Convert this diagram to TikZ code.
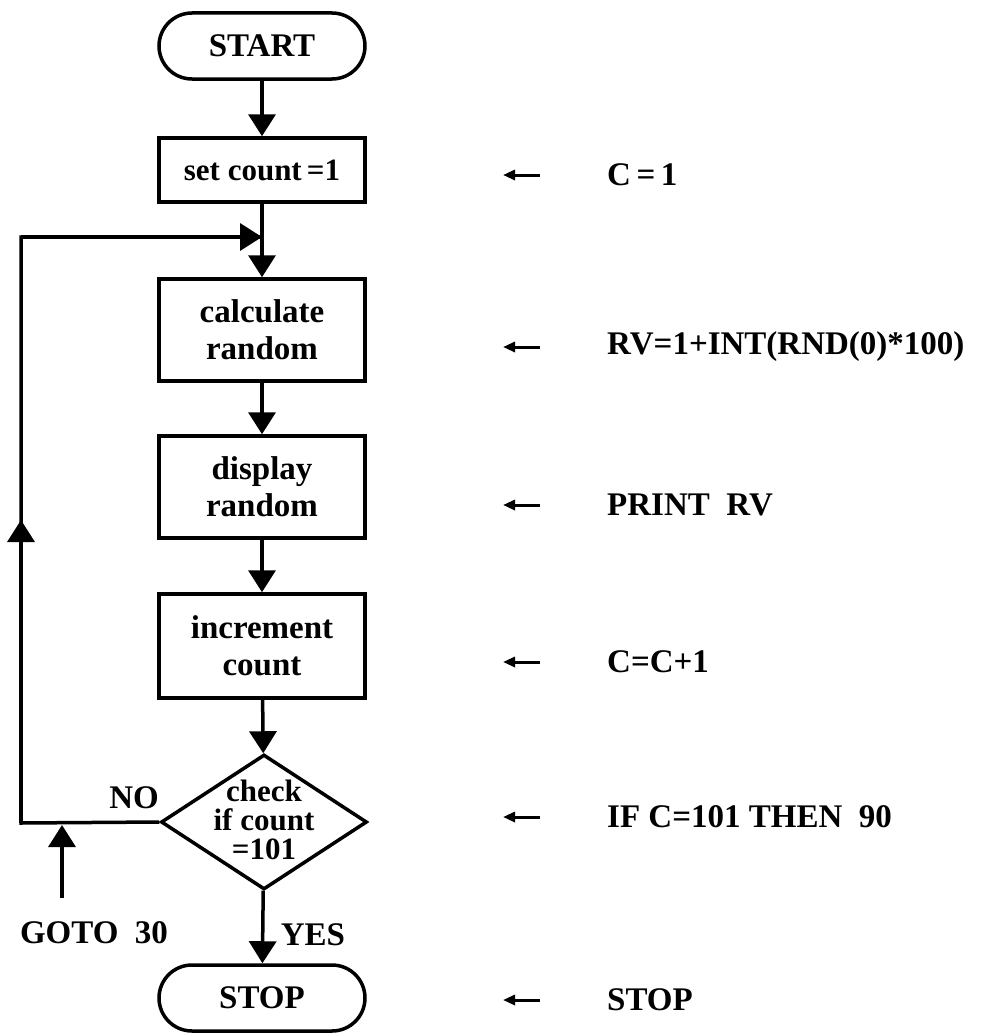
\documentclass[tikz,border=0pt]{standalone}
\usepackage{fontspec}
\setmainfont{Liberation Serif}
\usetikzlibrary{arrows.meta,shapes.geometric}
\begin{document}
\begin{tikzpicture}[x=1pt,y=-1pt,
  every node/.style={font=\fontsize{33}{37}\selectfont\bfseries},
  box/.style={draw,line width=3.5pt,minimum width=206pt,inner sep=0pt,align=center},
  term/.style={box,rounded corners=33pt,minimum height=66pt},
  dia/.style={draw,diamond,line width=3.5pt,minimum width=206pt,minimum height=135pt,inner sep=0pt},
  diatext/.style={align=center,inner sep=0pt,font=\fontsize{31}{29}\selectfont\bfseries},
  flow/.style={line width=3.5pt,-{Triangle[length=22pt,width=27pt]}},
  loopline/.style={line width=3.5pt},
  note/.style={anchor=west,inner sep=0pt},
  small/.style={line width=3pt,-{Triangle[length=12pt,width=10pt]}}]
\useasboundingbox (0,0) rectangle (987,1033);

% main column
\node[term] (start) at (262,46) {START};
\node[box,minimum height=64pt,font=\fontsize{31}{37}\selectfont\bfseries] (set) at (262,170) {set count\,=1};
\node[box,minimum height=102pt] (calc) at (262,330) {calculate\\random};
\node[box,minimum height=102pt] (disp) at (262,487) {display\\random};
\node[box,minimum height=104pt] (inc) at (262,646) {increment\\count};
\node[dia] (dia) at (264,822) {};
\node[diatext] (diat) at (264,820) {check\\if count\\=101};
\node[term] (stop) at (262,998) {STOP};

\draw[flow] (start) -- (set);
\draw[flow] (set) -- (calc);
\draw[flow] (calc) -- (disp);
\draw[flow] (disp) -- (inc);
\draw[flow] (inc) -- (dia);
\draw[flow] (dia) -- (stop);

% loop back
\coordinate (c1) at (21,823);
\coordinate (c2) at (21,520);
\coordinate (c3) at (21,237);
\coordinate (m) at (262,237);
\draw[loopline] (dia.west) -- (c1) -- (c3) -- (m);
\draw[flow] (c1) -- (c2);
\draw[flow] (c3) -- (m);

% goto arrow
\coordinate (gs) at (62,898);
\coordinate (ge) at (62,825);
\draw[flow] (gs) -- (ge);

\node (no) at (134,798) {NO};
\node (goto) at (94,933) {GOTO\ \ 30};
\node (yes) at (313,935) {YES};

% right column
\foreach \n/\y/\t in {1/175/{C\,=\,1},
                      2/347/{RV=1+INT(RND(0)*100)},
                      3/505/{PRINT\ \ RV},
                      4/662/{C=C+1},
                      5/817/{IF C=101 THEN\ \ 90},
                      6/1000/{STOP}}{
  \coordinate (a\n) at (540,\y);
  \coordinate (b\n) at (503,\y);
  \draw[small] (a\n) -- (b\n);
  \node[note] (r\n) at (607,\y) {\t};
}
\end{tikzpicture}
\end{document}
